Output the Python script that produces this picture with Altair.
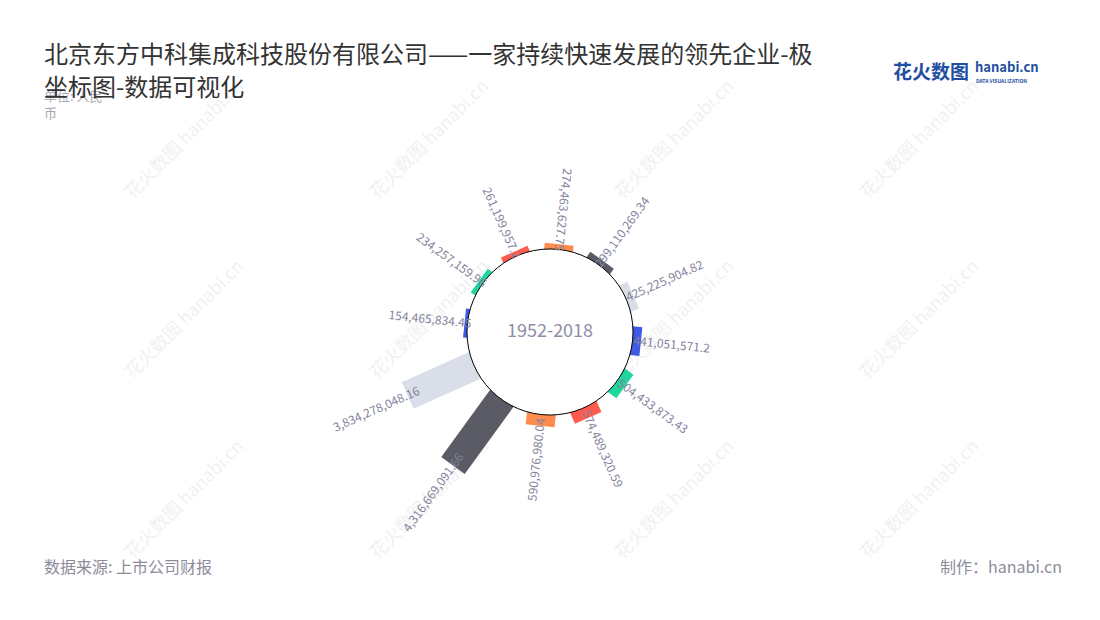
import altair as alt
import pandas as pd

# ---------------- data ----------------
values = [274463627.75, 299110269.34, 425225904.82, 441051571.2, 504433873.43,
          574489320.59, 590976980.04, 4316669091.66, 3834278048.16,
          154465834.45, 234257159.96, 261199957.2]
labels = [f"{v:,}" for v in values]
period = "1952-2018"
palette = ["#FF8C4F", "#5B5B66", "#D9DEE9", "#3D5BE3", "#1FD69E", "#FF5B4F"]

title_lines = ["北京东方中科集成科技股份有限公司——一家持续快速发展的领先企业-极",
               "坐标图-数据可视化"]
unit_lines = ["单位: 人民", "币"]
source_text = "数据来源: 上市公司财报"
credit_text = "制作：hanabi.cn"

# ---------------- layout / style ----------------
W, H = 1084, 604
FONT = "Noto Sans CJK SC"
START_DEG = 6          # angular offset of first bar
R_INNER = 83           # inner circle radius (px)
PX_PER_BILLION = 19.0  # radial length per 1e9
BAR_W = 29

n = len(values)
df = pd.DataFrame({
    "idx": list(range(n)),
    "value": values,
    "label": labels,
    "grp": [str(i % len(palette)) for i in range(n)],
})

xs = alt.Scale(domain=[-W / 2, W / 2], nice=False, zero=False)
ys = alt.Scale(domain=[-(H - 324), 324], nice=False, zero=False)

base = alt.Chart(df).transform_calculate(
    theta=f"{START_DEG} + datum.idx * 360 / {n}",
).transform_calculate(
    rad="datum.theta * PI / 180",
    r_out=f"{R_INNER} + datum.value / 1e9 * {PX_PER_BILLION}",
).transform_calculate(
    x0=f"sin(datum.rad) * {R_INNER - 6}",
    y0=f"cos(datum.rad) * {R_INNER - 6}",
    x1="sin(datum.rad) * datum.r_out",
    y1="cos(datum.rad) * datum.r_out",
    lx="sin(datum.rad) * datum.r_out * 0.92",
    ly="cos(datum.rad) * datum.r_out * 0.92",
    inward="datum.theta < 20 || datum.theta > 180",
    rot_out="(datum.theta - 90 + 360) % 360",
    rot_in="(datum.theta + 90) % 360",
)

bars = base.mark_rule(strokeWidth=BAR_W, strokeCap="butt").encode(
    x=alt.X("x0:Q", scale=xs, axis=None),
    y=alt.Y("y0:Q", scale=ys, axis=None),
    x2="x1:Q",
    y2="y1:Q",
    color=alt.Color("grp:N", scale=alt.Scale(domain=[str(i) for i in range(len(palette))],
                                              range=palette), legend=None),
)

center_df = pd.DataFrame({"cx": [0.0], "cy": [0.0], "txt": [period]})
circle = alt.Chart(center_df).mark_point(
    shape="circle", size=(2 * R_INNER) ** 2, filled=True, fill="white",
    stroke="black", strokeWidth=1, opacity=1, fillOpacity=1, strokeOpacity=1,
).encode(
    x=alt.X("cx:Q", scale=xs, axis=None),
    y=alt.Y("cy:Q", scale=ys, axis=None),
)

center_text = alt.Chart(center_df).mark_text(
    font=FONT, fontSize=18, color="#8E8EA6", align="center", baseline="middle",
).encode(
    x=alt.X("cx:Q", scale=xs, axis=None),
    y=alt.Y("cy:Q", scale=ys, axis=None),
    text="txt:N",
)

lab_common = dict(font=FONT, fontSize=12, color="#83839C", baseline="middle")
labels_out = base.transform_filter("!datum.inward").mark_text(align="left", **lab_common).encode(
    x=alt.X("lx:Q", scale=xs, axis=None),
    y=alt.Y("ly:Q", scale=ys, axis=None),
    text="label:N",
    angle=alt.Angle("rot_out:Q", scale=None),
)
labels_in = base.transform_filter("datum.inward").mark_text(align="right", **lab_common).encode(
    x=alt.X("lx:Q", scale=xs, axis=None),
    y=alt.Y("ly:Q", scale=ys, axis=None),
    text="label:N",
    angle=alt.Angle("rot_in:Q", scale=None),
)

# ---------------- decorations ----------------
one = pd.DataFrame({"a": [0]})
wm_cols = [185, 430, 675, 920]
wm_rows = [140, 320, 500]
wm_df = pd.DataFrame([{"wx": c - 8, "wy": r - 8} for r in wm_rows for c in wm_cols])
watermark = alt.Chart(wm_df).mark_text(
    text="花火数图 hanabi.cn", font=FONT, fontSize=18, fontWeight="normal",
    color="#F1F1F3", angle=315, align="center", baseline="middle",
).encode(
    x=alt.X("wx:Q", scale=alt.Scale(domain=[0, W], range=[0, W], nice=False, zero=False), axis=None),
    y=alt.Y("wy:Q", scale=alt.Scale(domain=[0, H], range=[0, H], nice=False, zero=False), axis=None),
)


def static_text(txt, x, y, **kw):
    return alt.Chart(one).mark_text(text=txt, font=FONT, **kw).encode(
        x=alt.value(x), y=alt.value(y))


unit = static_text(unit_lines, 36, 93, fontSize=13, color="#A9A9B4", align="left",
                   baseline="alphabetic", lineHeight=17)
title = static_text(title_lines, 36, 55, fontSize=24, color="#333333", align="left",
                    baseline="alphabetic", lineHeight=33)
logo1 = static_text("花火数图", 885, 71, fontSize=19, fontWeight="bold", color="#1F4FA0",
                    align="left", baseline="alphabetic")
logo2 = static_text("hanabi.cn", 967, 64, fontSize=13, fontWeight="bold", color="#1F4FA0",
                    align="left", baseline="alphabetic")
logo3 = static_text("DATA VISUALIZATION", 968, 75, fontSize=5, fontWeight="bold", color="#1F4FA0",
                    align="left", baseline="alphabetic")
source = static_text(source_text, 36, 565, fontSize=16, color="#8C8C99", align="left",
                     baseline="alphabetic")
credit = static_text(credit_text, 1054, 565, fontSize=16, color="#8C8C99", align="right",
                     baseline="alphabetic")

chart = alt.layer(
    watermark, bars, circle, labels_out, labels_in, center_text,
    unit, title, logo1, logo2, logo3, source, credit,
).resolve_scale(x="independent", y="independent").properties(
    width=W, height=H, autosize="none", padding=0,
).configure_view(stroke=None)

chart.save("out.html", embed_options={"renderer": "svg", "actions": False})
